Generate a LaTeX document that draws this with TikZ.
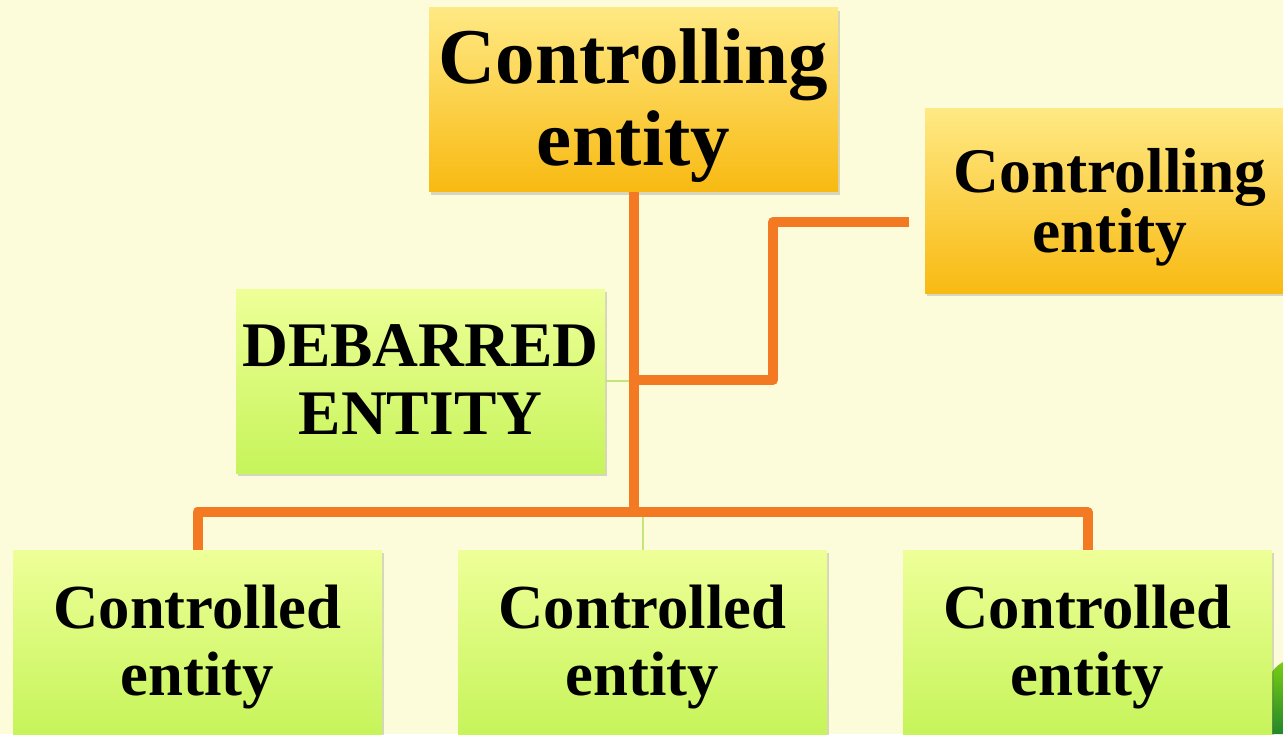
\documentclass[tikz,border=0pt]{standalone}
\usepackage{fontspec}
\setmainfont{Liberation Serif}
\usetikzlibrary{shadows}
\definecolor{bg}{RGB}{252,252,218}
\definecolor{yTop}{RGB}{255,233,132}
\definecolor{yBot}{RGB}{248,186,18}
\definecolor{gTop}{RGB}{238,255,152}
\definecolor{gBot}{RGB}{198,244,90}
\definecolor{conn}{RGB}{243,122,35}
\definecolor{thinc}{RGB}{196,230,120}
\definecolor{leafA}{RGB}{120,205,20}
\definecolor{leafB}{RGB}{35,135,40}
\tikzset{
  box/.style={rectangle, inner sep=0pt, align=center,
    drop shadow={shadow xshift=2pt, shadow yshift=-3pt, opacity=0.25, fill=black!60}},
  ybox/.style={box, top color=yTop, bottom color=yBot},
  gbox/.style={box, top color=gTop, bottom color=gBot},
  link/.style={draw=conn, line width=10pt, line join=round},
  faint/.style={draw=thinc, line width=2pt},
  bigtxt/.style={font=\bfseries\fontsize{79}{82}\selectfont, text height=148pt, text depth=17pt},
  rtxt/.style={font=\bfseries\fontsize{63.5}{58}\selectfont, text height=117pt, text depth=14pt},
  dtxt/.style={font=\bfseries\fontsize{63.5}{68}\selectfont, text height=106pt, text depth=0pt},
  ctxt/.style={font=\bfseries\fontsize{62.7}{67}\selectfont, text height=120pt, text depth=14pt},
}
\begin{document}
\begin{tikzpicture}[x=1pt, y=-1pt]
\clip (0,0) rectangle (1283,734);
\fill[bg] (0,0) rectangle (1283,734);
% decorative leaf in the corner
\shade[top color=leafA, bottom color=leafB] (1272,672) .. controls (1276,666) and (1280,664) .. (1283,662) -- (1283,734) -- (1272,734) -- cycle;

% boxes
\node[ybox, bigtxt, minimum width=409pt, minimum height=184pt] (top) at (633.5,99.5) {Controlling\\entity};
\node[ybox, rtxt, minimum width=370pt, minimum height=185pt] (right) at (1110,200.5) {Controlling\\entity};
\node[gbox, dtxt, minimum width=369pt, minimum height=184pt] (deb) at (420.5,381) {DEBARRED\\ENTITY};
\node[gbox, ctxt, minimum width=369pt, minimum height=184pt] (c1) at (197.5,642) {Controlled\\entity};
\node[gbox, ctxt, minimum width=369pt, minimum height=184pt] (c2) at (642.5,642) {Controlled\\entity};
\node[gbox, ctxt, minimum width=369pt, minimum height=184pt] (c3) at (1087.5,642) {Controlled\\entity};

% junction points
\coordinate (bus) at (633.5,512);
\coordinate (j1) at (633.5,380);
\coordinate (k1) at (773,380);
\coordinate (k2) at (773,222);
\coordinate (rEnd) at (909,222);

% thin green links
\draw[faint] (deb.east) -- (deb.east -| j1);
\draw[faint] (c2.north) -- (c2.north |- bus);

% orange links
\draw[link] (top.south) -- (bus);
\draw[link] (c1.north) -- (c1.north |- bus) -- (c3.north |- bus) -- (c3.north);
\draw[link] (j1) -- (k1) -- (k2) -- (rEnd);
\end{tikzpicture}
\end{document}
